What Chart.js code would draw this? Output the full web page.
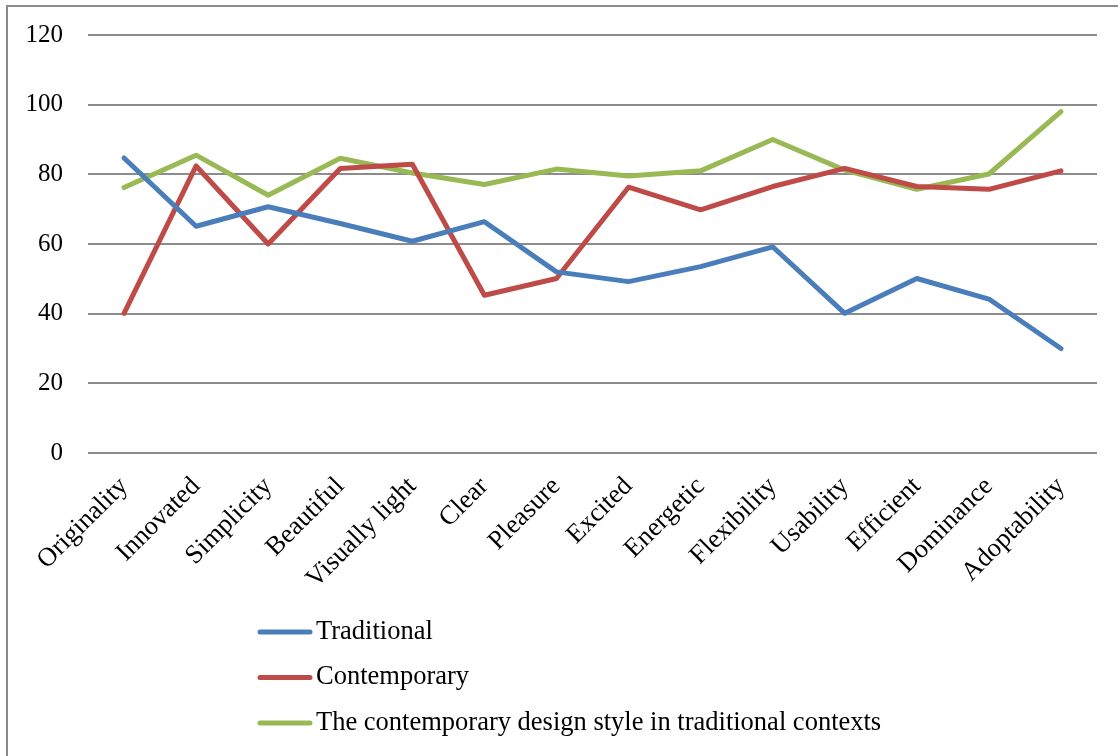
<!DOCTYPE html>
<html>
<head>
<meta charset="utf-8">
<script src="https://cdn.jsdelivr.net/npm/chart.js@4/dist/chart.umd.min.js"></script>
<style>
  html, body { margin: 0; padding: 0; background: #fff; }
  #wrap { width: 1118px; height: 756px; position: relative; }
</style>
</head>
<body>
<div id="wrap"><canvas id="chart" width="1118" height="756"></canvas></div>
<script>
// categories and series
var categories = ["Originality", "Innovated", "Simplicity", "Beautiful", "Visually light", "Clear", "Pleasure",
                  "Excited", "Energetic", "Flexibility", "Usability", "Efficient", "Dominance", "Adoptability"];
var traditional  = [84.7, 65.1, 70.7, 65.9, 60.8, 66.4, 52.0, 49.2, 53.5, 59.2, 40.1, 50.1, 44.2, 30.0];
var contemporary = [40.1, 82.4, 60.0, 81.7, 82.9, 45.3, 50.1, 76.3, 69.8, 76.5, 81.7, 76.5, 75.7, 81.0];
var mixedStyle   = [76.2, 85.5, 74.0, 84.6, 80.4, 77.1, 81.5, 79.5, 81.0, 90.0, 81.2, 75.7, 80.1, 98.0];
var seriesNames  = ["Traditional", "Contemporary", "The contemporary design style in traditional contexts"];
var yTicks = { min: 0, max: 120, step: 20 };

var serif = "'Liberation Serif', 'Times New Roman', serif";

// frame + stacked legend, drawn by hand
var extras = {
  id: 'extras',
  beforeDraw: function(chart) {
    var ctx = chart.ctx;
    ctx.save();
    ctx.strokeStyle = '#8a8a8a';
    ctx.lineWidth = 2;
    ctx.beginPath();
    ctx.moveTo(7, 760);
    ctx.lineTo(7, 6);
    ctx.lineTo(1120, 6);
    ctx.stroke();
    ctx.restore();
  },
  afterDraw: function(chart) {
    var ctx = chart.ctx;
    ctx.save();
    ctx.font = '26.5px ' + serif;
    ctx.textBaseline = 'middle';
    ctx.fillStyle = '#000';
    chart.data.datasets.forEach(function(ds, i) {
      var y = 632 + i * 45.5;
      ctx.strokeStyle = ds.borderColor;
      ctx.lineWidth = 5;
      ctx.lineCap = 'round';
      ctx.beginPath();
      ctx.moveTo(260, y);
      ctx.lineTo(310, y);
      ctx.stroke();
      ctx.fillText(ds.label, 316, y);
    });
    ctx.restore();
  }
};

var colors = ['#4a7ebb', '#be4b48', '#98b954'];
var values = [traditional, contemporary, mixedStyle];

var ctx = document.getElementById('chart').getContext('2d');
var chart = new Chart(ctx, {
  type: 'line',
  data: {
    labels: categories,
    datasets: values.map(function(v, i) {
      return {
        label: seriesNames[i],
        data: v,
        borderColor: colors[i],
        backgroundColor: colors[i],
        borderWidth: 5,
        pointRadius: 0,
        tension: 0,
        borderJoinStyle: 'round',
        borderCapStyle: 'round'
      };
    })
  },
  options: {
    responsive: false,
    animation: false,
    layout: { autoPadding: false, padding: { top: 35, right: 21, bottom: 0, left: 0 } },
    plugins: {
      legend: { display: false },
      tooltip: { enabled: false }
    },
    scales: {
      x: {
        offset: true,
        grid: { display: false },
        border: { display: false },
        ticks: {
          color: '#000',
          font: { family: serif, size: 26.5 },
          minRotation: 45,
          maxRotation: 45,
          padding: 10,
          autoSkip: false
        },
        afterFit: function(scale) { scale.height = 303; }
      },
      y: {
        min: yTicks.min,
        max: yTicks.max,
        border: { display: false },
        grid: { color: '#8c8c8c', lineWidth: 2, drawTicks: false },
        ticks: {
          stepSize: yTicks.step,
          color: '#000',
          font: { family: serif, size: 25 },
          padding: 25
        },
        afterFit: function(scale) {
          scale.width = 88;
          scale.paddingTop = 0;
          scale.paddingBottom = 0;
        }
      }
    }
  },
  plugins: [extras]
});
</script>
</body>
</html>
